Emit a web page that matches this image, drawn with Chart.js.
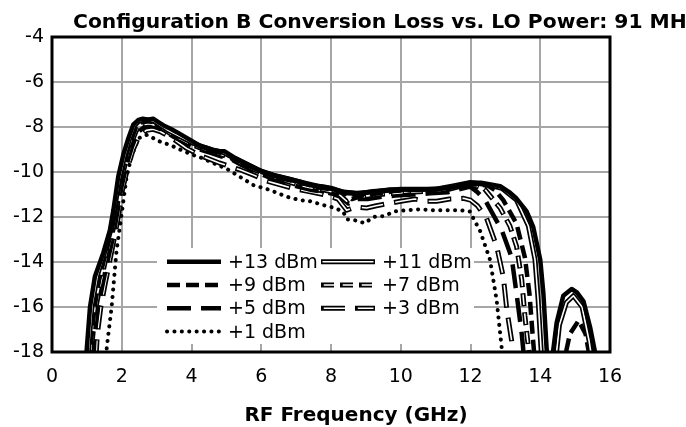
<!DOCTYPE html>
<html><head><meta charset="utf-8">
<script src="https://cdn.jsdelivr.net/npm/chart.js@4.4.1/dist/chart.umd.min.js"></script>
<style>html,body{margin:0;padding:0;background:#fff;}canvas{display:block;}</style>
</head><body>
<canvas id="c" width="686" height="427"></canvas>
<script>
const titleText = "Configuration B Conversion Loss vs. LO Power: 91 MH";
const xAxisTitle = "RF Frequency (GHz)";
const xTickValues = [0, 2, 4, 6, 8, 10, 12, 14, 16];
const yTickValues = [-18, -16, -14, -12, -10, -8, -6, -4];
const seriesLabels = ["+13 dBm", "+11 dBm", "+9 dBm", "+7 dBm", "+5 dBm", "+3 dBm", "+1 dBm"];

const f13 = [0.97,1.0,1.09,1.23,1.47,1.66,1.76,1.9,2.05,2.19,2.33,2.48,2.6,2.75,2.9,3.05,3.2,3.4,3.58,3.8,3.96,4.24,4.45,4.63,4.8,4.95,5.2,5.58,5.96,6.35,6.73,7.11,7.4,7.88,8.35,8.74,9.21,9.69,10.17,10.65,11.13,11.6,12.0,12.3,12.5,12.85,13.1,13.32,13.61,13.8,14.0,14.09,14.18,14.26,14.35,14.47,14.66,14.9,15.05,15.24,15.43,15.57,15.62];
const v13 = [-18.5,-17.8,-16.0,-14.65,-13.6,-12.6,-11.7,-10.2,-9.2,-8.5,-7.9,-7.68,-7.63,-7.68,-7.63,-7.78,-7.93,-8.08,-8.23,-8.43,-8.58,-8.83,-8.93,-9.03,-9.08,-9.08,-9.33,-9.63,-9.93,-10.13,-10.28,-10.43,-10.58,-10.68,-10.88,-10.93,-10.88,-10.78,-10.78,-10.78,-10.73,-10.63,-10.48,-10.48,-10.53,-10.63,-10.88,-11.18,-11.75,-12.45,-13.9,-15.4,-17.8,-19.5,-18.2,-16.7,-15.5,-15.2,-15.35,-15.75,-16.9,-18.0,-18.6];

const f11 = [1.02,1.06,1.15,1.3,1.5,1.68,1.8,1.93,2.08,2.22,2.36,2.5,2.7,2.9,3.1,3.3,3.55,3.8,4.05,4.3,4.6,4.9,5.2,5.6,6.0,6.4,6.8,7.2,7.6,8.0,8.4,8.8,9.2,9.6,10.0,10.5,11.0,11.5,12.0,12.5,12.9,13.32,13.66,13.85,13.94,14.02,14.08,14.4,14.55,14.75,14.95,15.2,15.4,15.5];
const v11 = [-18.5,-17.6,-15.9,-14.6,-13.6,-12.6,-11.6,-10.3,-9.3,-8.55,-7.95,-7.72,-7.68,-7.72,-7.92,-8.12,-8.32,-8.52,-8.72,-8.87,-9.02,-9.12,-9.37,-9.67,-9.97,-10.17,-10.32,-10.47,-10.62,-10.72,-10.92,-10.97,-10.87,-10.82,-10.77,-10.77,-10.77,-10.62,-10.47,-10.57,-10.72,-11.25,-12.4,-13.9,-15.7,-17.8,-19.5,-19.0,-16.8,-15.8,-15.5,-16.0,-17.5,-18.5];

const f9 = [1.08,1.12,1.22,1.35,1.52,1.7,1.82,1.95,2.1,2.25,2.4,2.55,2.75,2.95,3.15,3.4,3.65,3.9,4.15,4.4,4.7,5.0,5.3,5.7,6.1,6.5,6.9,7.3,7.7,8.1,8.45,8.6,9.0,9.4,9.8,10.3,10.8,11.3,11.8,12.2,12.5,12.7,12.94,13.32,13.56,13.69,13.78,13.85,14.6,14.85,15.1,15.3,15.45];
const v9 = [-18.5,-17.5,-16.0,-14.8,-13.7,-12.7,-11.7,-10.4,-9.4,-8.65,-8.05,-7.8,-7.75,-7.8,-7.95,-8.2,-8.4,-8.6,-8.8,-8.95,-9.1,-9.2,-9.45,-9.75,-10.05,-10.25,-10.4,-10.55,-10.7,-10.8,-11.0,-11.2,-11.0,-10.95,-10.85,-10.8,-10.8,-10.75,-10.55,-10.55,-10.6,-10.8,-11.25,-12.3,-13.8,-15.4,-17.2,-18.5,-19.0,-17.2,-16.6,-17.2,-18.5];

const f7 = [1.12,1.16,1.26,1.4,1.55,1.72,1.84,1.97,2.12,2.27,2.42,2.6,2.8,3.0,3.2,3.45,3.7,3.95,4.2,4.5,4.8,5.1,5.4,5.8,6.2,6.6,7.0,7.4,7.8,8.2,8.45,8.65,9.0,9.4,9.8,10.3,10.8,11.3,11.8,12.0,12.4,12.85,13.13,13.32,13.47,13.56,13.66,13.72];
const v7 = [-18.5,-17.4,-16.0,-14.9,-13.8,-12.8,-11.8,-10.5,-9.5,-8.75,-8.15,-7.9,-7.85,-7.95,-8.1,-8.35,-8.55,-8.75,-8.9,-9.05,-9.2,-9.35,-9.6,-9.9,-10.15,-10.35,-10.55,-10.7,-10.8,-10.95,-11.3,-11.1,-11.1,-11.0,-10.95,-10.9,-10.85,-10.8,-10.6,-10.55,-10.75,-11.6,-12.4,-13.3,-14.8,-16.4,-17.8,-18.6];

const f5 = [1.18,1.22,1.32,1.45,1.6,1.75,1.86,2.0,2.15,2.3,2.45,2.65,2.85,3.05,3.25,3.5,3.75,4.0,4.25,4.55,4.85,5.15,5.45,5.85,6.25,6.65,7.05,7.45,7.85,8.25,8.5,8.7,9.05,9.45,9.85,10.35,10.85,11.35,11.85,12.0,12.2,12.42,12.9,13.18,13.32,13.47,13.55];
const v5 = [-18.5,-17.3,-16.0,-15.0,-13.9,-12.9,-11.9,-10.6,-9.6,-8.85,-8.25,-8.0,-7.95,-8.05,-8.2,-8.45,-8.65,-8.85,-9.0,-9.15,-9.3,-9.45,-9.7,-10.0,-10.25,-10.45,-10.65,-10.8,-10.9,-11.05,-11.4,-11.2,-11.2,-11.1,-11.05,-11.0,-10.95,-10.9,-10.7,-10.65,-10.9,-11.25,-12.6,-13.8,-15.4,-17.2,-18.5];

const f3 = [1.25,1.3,1.4,1.52,1.65,1.78,1.9,2.02,2.18,2.33,2.5,2.7,2.9,3.1,3.4,3.86,4.3,4.8,5.39,5.8,6.16,6.5,6.92,7.3,7.78,8.2,8.45,8.7,9.02,9.3,9.64,10.0,10.4,10.7,11.03,11.4,11.8,12.0,12.2,12.46,12.75,12.94,13.04,13.18,13.25];
const v3 = [-18.5,-17.2,-16.0,-15.0,-14.0,-13.0,-12.0,-10.8,-9.75,-9.0,-8.4,-8.15,-8.1,-8.2,-8.45,-8.95,-9.3,-9.6,-9.9,-10.15,-10.4,-10.55,-10.73,-10.85,-11.0,-11.2,-11.7,-11.55,-11.6,-11.5,-11.4,-11.3,-11.2,-11.3,-11.3,-11.2,-11.17,-11.25,-11.5,-12.05,-13.3,-14.65,-16.1,-17.5,-18.5];

const f1 = [1.55,1.57,1.71,1.85,1.95,2.05,2.14,2.28,2.48,2.72,3.1,3.38,3.67,4.05,4.34,4.62,5.0,5.3,5.77,6.25,6.73,7.11,7.4,7.78,8.11,8.35,8.45,8.74,8.97,9.21,9.55,9.79,10.17,10.55,10.93,11.32,11.7,11.99,12.08,12.27,12.56,12.75,12.9,12.95];
const v1 = [-18.5,-17.8,-16.0,-13.5,-12.4,-11.25,-10.2,-9.3,-8.5,-8.35,-8.65,-8.8,-9.0,-9.25,-9.4,-9.6,-9.85,-10.13,-10.58,-10.8,-11.1,-11.25,-11.3,-11.47,-11.6,-11.76,-12.1,-12.16,-12.28,-12.0,-11.95,-11.76,-11.7,-11.66,-11.7,-11.7,-11.7,-11.76,-12.06,-12.6,-13.9,-15.7,-17.9,-18.5];

const seriesFreqs = [f13, f11, f9, f7, f5, f3, f1];
const seriesValues = [v13, v11, v9, v7, v5, v3, v1];

// styles (not data)
const styles = [
  {w: 4.5, dash: []},
  {w: 5, dash: [], double: true, inner: 1.6},
  {w: 4.5, dash: [13, 6]},
  {w: 5, dash: [13, 6], double: true, inner: 1.6},
  {w: 4.5, dash: [24, 10]},
  {w: 5, dash: [24, 10], double: true, inner: 1.6},
  {w: 4, dash: [0.1, 7.3], cap: 'round'}
];
function innerDash(d) { return d.length ? [Math.max(d[0] - 2.5, 1), d[1] + 2.5] : []; }

const FONT = "'DejaVu Sans', sans-serif";
const datasets = [];
seriesLabels.forEach((lab, k) => {
  const pts = seriesFreqs[k].map((x, i) => ({x: x, y: seriesValues[k][i]}));
  const st = styles[k];
  datasets.push({
    label: lab, data: pts, borderColor: '#000', borderWidth: st.w,
    borderDash: st.dash, borderCapStyle: st.cap || 'butt', borderJoinStyle: 'round',
    pointRadius: 0, tension: 0, fill: false, order: 2 * k + 1, clip: 0
  });
  if (st.double) {
    datasets.push({
      label: lab + ' inner', data: pts, borderColor: '#fff', borderWidth: st.inner,
      borderDash: innerDash(st.dash), borderDashOffset: st.dash.length ? -1.25 : 0,
      borderCapStyle: 'butt', borderJoinStyle: 'round',
      pointRadius: 0, tension: 0, fill: false, order: 2 * k, clip: 0
    });
  }
});

function strokeSample(ctx, x0, x1, y, st) {
  ctx.save();
  ctx.lineCap = st.cap || 'butt';
  ctx.strokeStyle = '#000'; ctx.lineWidth = st.w; ctx.setLineDash(st.dash);
  ctx.beginPath(); ctx.moveTo(x0, y); ctx.lineTo(x1, y); ctx.stroke();
  if (st.double) {
    ctx.strokeStyle = '#fff'; ctx.lineWidth = st.inner; ctx.lineCap = 'butt';
    ctx.setLineDash(innerDash(st.dash)); ctx.lineDashOffset = st.dash.length ? -1.25 : 0;
    ctx.beginPath(); ctx.moveTo(x0 + 1.5, y); ctx.lineTo(x1 - 1.5, y); ctx.stroke();
  }
  ctx.restore();
}

const decor = {
  id: 'decor',
  afterDatasetsDraw(chart) {
    const ctx = chart.ctx, ca = chart.chartArea;
    // legend
    const lx = ca.left + 105, ly = ca.top + 211;
    ctx.save();
    ctx.fillStyle = '#fff';
    ctx.fillRect(lx, ly, 317, 96);
    ctx.font = '19px ' + FONT;
    ctx.fillStyle = '#000';
    ctx.textBaseline = 'middle';
    ctx.textAlign = 'left';
    seriesLabels.forEach((lab, i) => {
      const col = i % 2, row = Math.floor(i / 2);
      const y = ca.top + 224.7 + row * 23.3;
      const x0 = ca.left + 115 + col * 154;
      strokeSample(ctx, x0, x0 + 54, y, styles[i]);
      ctx.fillText(lab, x0 + 61, y + 1);
    });
    ctx.restore();
    // frame
    ctx.save();
    ctx.strokeStyle = '#000'; ctx.lineWidth = 3;
    ctx.strokeRect(ca.left, ca.top, ca.right - ca.left, ca.bottom - ca.top);
    ctx.restore();
  },
  afterDraw(chart) {
    const ctx = chart.ctx;
    ctx.save();
    ctx.fillStyle = '#000';
    ctx.font = 'bold 20.3px ' + FONT;
    ctx.textAlign = 'left'; ctx.textBaseline = 'alphabetic';
    ctx.fillText(titleText, 73, 27.7);
    ctx.font = 'bold 20px ' + FONT;
    ctx.textAlign = 'center';
    ctx.fillText(xAxisTitle, 356, 420.7);
    ctx.restore();
  }
};

new Chart(document.getElementById('c'), {
  type: 'line',
  data: {datasets: datasets},
  options: {
    responsive: false, animation: false, devicePixelRatio: 1,
    layout: {padding: {top: 37, right: 76, left: 0, bottom: 0}},
    plugins: {legend: {display: false}, title: {display: false}, tooltip: {enabled: false}},
    scales: {
      x: {
        type: 'linear', min: 0, max: 16,
        afterFit(s) { s.height = 75; },
        afterBuildTicks(s) { s.ticks = xTickValues.map(v => ({value: v})); },
        grid: {color: '#a6a6a6', lineWidth: 2, drawTicks: false},
        border: {display: false},
        ticks: {font: {family: FONT, size: 19}, color: '#000', padding: 14, maxRotation: 0, callback: v => String(v)}
      },
      y: {
        type: 'linear', min: -18, max: -4,
        afterFit(s) { s.width = 52; },
        afterBuildTicks(s) { s.ticks = yTickValues.map(v => ({value: v})); },
        grid: {color: '#a6a6a6', lineWidth: 2, drawTicks: false},
        border: {display: false},
        ticks: {font: {family: FONT, size: 19}, color: '#000', padding: 8, callback: v => String(v)}
      }
    }
  },
  plugins: [decor]
});
</script>
</body></html>
